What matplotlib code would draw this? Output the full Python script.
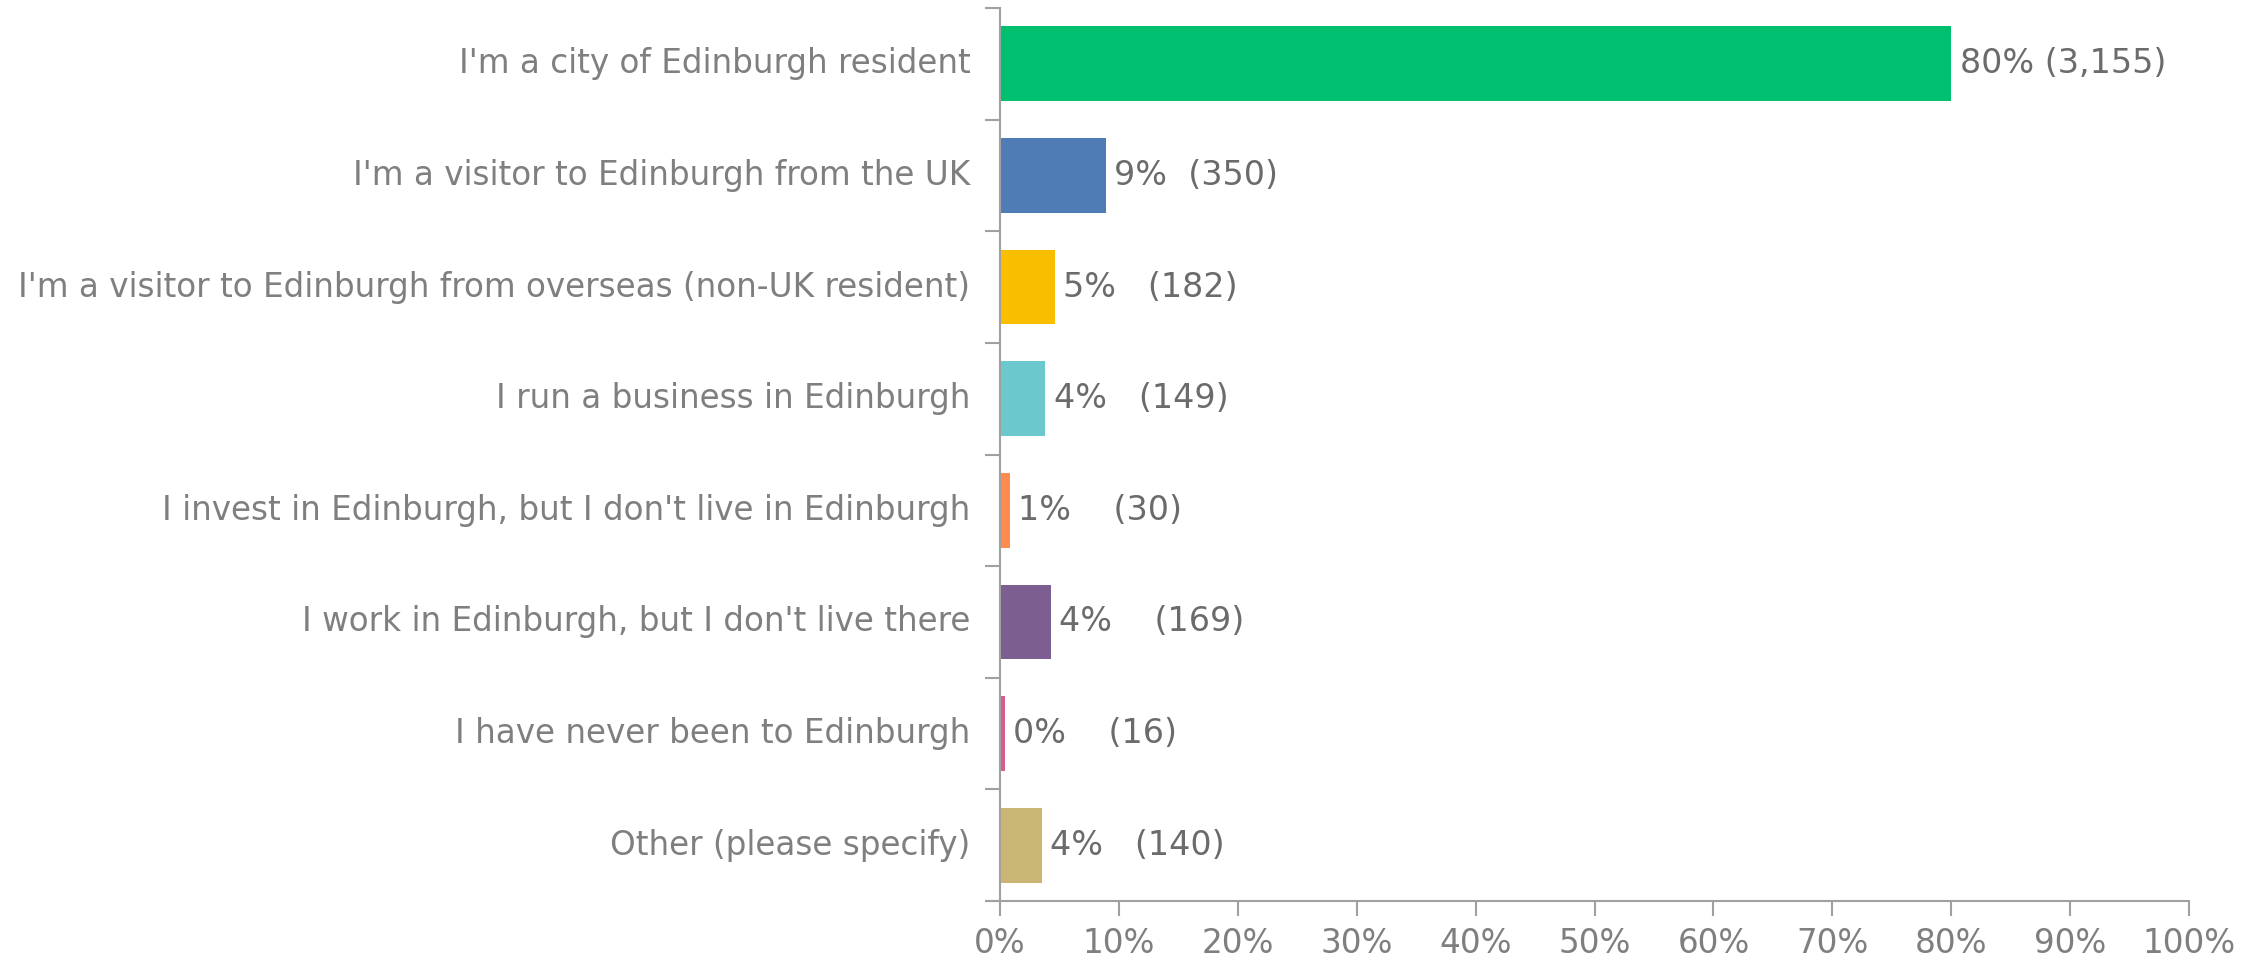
import matplotlib.pyplot as plt

# Survey: "Which of these describes you?" (multiple choice)
answers = [
    "I'm a city of Edinburgh resident",
    "I'm a visitor to Edinburgh from the UK",
    "I'm a visitor to Edinburgh from overseas (non-UK resident)",
    "I run a business in Edinburgh",
    "I invest in Edinburgh, but I don't live in Edinburgh",
    "I work in Edinburgh, but I don't live there",
    "I have never been to Edinburgh",
    "Other (please specify)",
]
percents = [80.0, 8.9, 4.6, 3.8, 0.8, 4.3, 0.4, 3.5]
counts = [3155, 350, 182, 149, 30, 169, 16, 140]
gaps = [1, 2, 3, 3, 4, 4, 4, 3]
colors = ["#00BF6F", "#507CB6", "#F9BE00", "#6BC8CD",
          "#FF8B4F", "#7D5E90", "#D25F90", "#C9B674"]

label_grey = "#7f7f7f"
value_grey = "#6b6b6b"
axis_grey = "#a0a0a0"

fig = plt.figure(figsize=(22.64, 9.6), dpi=100)
ax = fig.add_axes([1000 / 2264, 59 / 960, 1189 / 2264, 893 / 960])

pos = list(range(len(answers)))
ax.barh(pos, percents, height=0.67, color=colors)

for y, p, c, g in zip(pos, percents, counts, gaps):
    ax.text(p + 0.7, y, f"{round(p)}%" + " " * g + f"({c:,})",
            va="center", ha="left", fontsize=24, color=value_grey)

ax.set_xlim(0, 100)
ax.set_ylim(len(answers) - 0.5, -0.5)
ax.set_xticks(range(0, 101, 10))
ax.set_xticklabels([f"{t}%" for t in range(0, 101, 10)])

# category names as text, ticks sit on the boundaries between bars
ax.set_yticks([i - 0.5 for i in range(len(answers) + 1)])
ax.set_yticklabels([])
for y, name in zip(pos, answers):
    ax.text(-0.025, y, name, transform=ax.get_yaxis_transform(),
            ha="right", va="center", fontsize=23.5, color=label_grey)

for side in ["top", "right"]:
    ax.spines[side].set_visible(False)
for side in ["left", "bottom"]:
    ax.spines[side].set_color(axis_grey)
    ax.spines[side].set_linewidth(1.5)
ax.tick_params(axis="both", color=axis_grey, length=11, width=1.5)
ax.tick_params(axis="x", labelsize=23.5, labelcolor=label_grey, pad=8)
ax.spines["bottom"].set_bounds(-1.0, 100)

fig.savefig("out.png", dpi=100)
